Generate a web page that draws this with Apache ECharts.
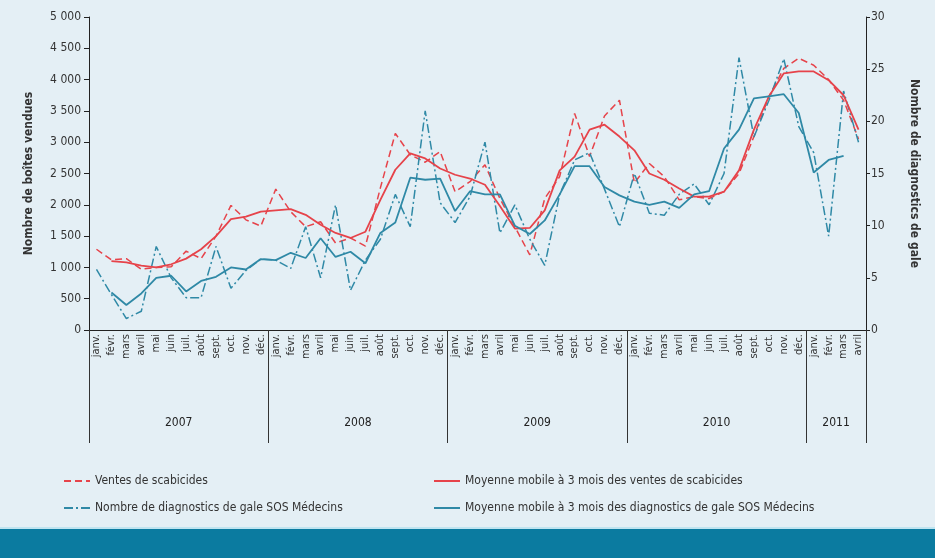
<!DOCTYPE html>
<html>
<head>
<meta charset="utf-8">
<title>Ventes de scabicides et diagnostics de gale</title>
<script src="https://cdn.jsdelivr.net/npm/echarts@6/dist/echarts.min.js"></script>
<style>
	body {
		margin: 0;
		background: #e4eff5;
	}

	#zoom {
		position: absolute;
		left: 0;
		top: 0;
		width: 935px;
		height: 558px;
	}

	#band {
		position: absolute;
		left: 0;
		top: 527px;
		width: 935px;
		height: 31px;
		background: #0b7ba0;
		border-top: 2px solid #bfe4f0;
		box-sizing: border-box;
	}
</style>
</head>
<body>
<div id="zoom"></div>
<div id="band"></div>
<script>
	// mois (janv. 2007 -> avril 2011)
	const mois = ['janv.', 'févr.', 'mars', 'avril', 'mai', 'juin', 'juil.', 'août', 'sept.', 'oct.', 'nov.', 'déc.']
	const annees = ['2007', '2008', '2009', '2010', '2011']
	const moisParAnnee = [12, 12, 12, 12, 4]

	// ventes de scabicides (boites)
	const ventes = [
		1290, 1120, 1140, 970, 1000, 1010, 1260, 1140, 1500, 1990, 1760, 1660,
		2250, 1890, 1650, 1730, 1390, 1470, 1340, 2270, 3140, 2800, 2680, 2850,
		2210, 2370, 2640, 2100, 1650, 1200, 2100, 2450, 3460, 2770, 3420, 3670,
		2350, 2660, 2450, 2080, 2130, 2100, 2210, 2500, 3090, 3730, 4180, 4340,
		4230, 4000, 3670, 3050
	]
	// moyenne mobile 3 mois des ventes
	const ventesMoy = [
		null, 1100, 1080, 1030, 1000, 1050, 1140, 1290, 1500, 1770, 1810, 1890,
		1910, 1930, 1840, 1680, 1550, 1470, 1570, 2080, 2560, 2820, 2740, 2580,
		2480, 2420, 2320, 1980, 1620, 1630, 1910, 2550, 2770, 3200, 3280, 3090,
		2870, 2500, 2400, 2260, 2130, 2130, 2210, 2550, 3200, 3730, 4100, 4130,
		4130, 3990, 3750, 3200
	]
	// nombre de diagnostics de gale SOS Médecins
	const diag = [
		5.8, 3.4, 1.1, 1.8, 8.0, 5.0, 3.1, 3.1, 8.0, 4.0, 5.7, 6.8,
		6.7, 5.9, 9.9, 5.0, 12.0, 3.8, 6.7, 8.7, 13.0, 9.9, 21.0, 12.2,
		10.3, 12.8, 18.0, 9.3, 12.0, 8.7, 6.2, 13.0, 16.3, 17.0, 13.5, 9.9,
		15.0, 11.2, 11.0, 13.0, 14.0, 12.0, 15.0, 26.1, 18.5, 22.0, 26.0, 19.5,
		17.0, 9.0, 22.9, 18.0
	]
	// moyenne mobile 3 mois des diagnostics
	const diagMoy = [
		null, 3.6, 2.4, 3.5, 5.0, 5.2, 3.7, 4.7, 5.1, 6.0, 5.8, 6.8,
		6.7, 7.4, 6.9, 8.8, 7.0, 7.5, 6.4, 9.3, 10.3, 14.6, 14.4, 14.5,
		11.4, 13.3, 13.0, 13.0, 10.0, 9.2, 10.5, 13.0, 15.7, 15.7, 13.7, 12.9,
		12.3, 12.0, 12.3, 11.7, 13.0, 13.3, 17.4, 19.2, 22.2, 22.4, 22.6, 20.8,
		15.1, 16.3, 16.7, null
	]

	// axe des catégories : un libellé par mois + l'année de chaque mois
	const categories = []
	const anneeDuMois = []
	annees.forEach((a, k) => {
		for (let m = 0; m < moisParAnnee[k]; m++) {
			categories.push(mois[m])
			anneeDuMois.push(a)
		}
	})
	// début de chaque année (séparateurs) et milieu (libellé)
	const debutAnnee = []
	const milieuAnnee = []
	let n = 0
	moisParAnnee.forEach(c => {
		debutAnnee.push(n)
		milieuAnnee.push(n + c / 2)
		n += c
	})

	const police = "'Liberation Sans Narrow', 'DejaVu Sans Condensed', sans-serif"
	const rouge = '#e6434a'
	const bleu = '#2f89a6'

	const legende = {
		orient: 'vertical',
		top: 470,
		itemWidth: 26,
		itemHeight: 10,
		itemGap: 15,
		// pas de rond dans l'icone, juste le trait
		itemStyle: {
			opacity: 0
		},
		textStyle: {
			fontSize: 12,
			color: '#333'
		}
	}

	const option = {
		backgroundColor: '#e4eff5',
		textStyle: {
			fontFamily: police
		},
		grid: {
			left: 89,
			right: 69,
			top: 17,
			bottom: 228
		},
		legend: [{
			...legende,
			left: 58,
			data: ['Ventes de scabicides', 'Nombre de diagnostics de gale SOS Médecins']
		}, {
			...legende,
			left: 428,
			data: ['Moyenne mobile à 3 mois des ventes de scabicides',
				'Moyenne mobile à 3 mois des diagnostics de gale SOS Médecins'
			]
		}],
		xAxis: [{
			type: 'category',
			position: 'bottom',
			data: categories,
			axisLine: {
				lineStyle: {
					color: '#222'
				}
			},
			axisTick: {
				show: false
			},
			axisLabel: {
				interval: 0,
				rotate: 90,
				margin: 4,
				fontSize: 11,
				color: '#333'
			}
		}, {
			// années : séparateurs + libellés
			type: 'category',
			position: 'bottom',
			data: anneeDuMois,
			axisLine: {
				show: false
			},
			axisTick: {
				show: true,
				length: 113,
				interval: (idx) => debutAnnee.indexOf(idx) >= 0,
				lineStyle: {
					color: '#333'
				}
			},
			axisLabel: {
				interval: (idx) => milieuAnnee.indexOf(idx) >= 0,
				margin: 87,
				fontSize: 12,
				color: '#222',
				padding: [0, 15, 0, 0]
			}
		}],
		yAxis: [{
			type: 'value',
			min: 0,
			max: 5000,
			interval: 500,
			name: 'Nombre de boîtes vendues',
			nameLocation: 'middle',
			nameGap: 54,
			nameTextStyle: {
				fontSize: 12,
				fontWeight: 'bold',
				color: '#333'
			},
			splitLine: {
				show: false
			},
			axisLine: {
				show: true,
				lineStyle: {
					color: '#222'
				}
			},
			axisTick: {
				show: true,
				length: 5
			},
			axisLabel: {
				fontSize: 12,
				color: '#333',
				margin: 8,
				formatter: (v) => String(v).replace(/\B(?=(\d{3})+$)/g, ' ')
			}
		}, {
			type: 'value',
			min: 0,
			max: 30,
			interval: 5,
			position: 'right',
			name: 'Nombre de diagnostics de gale',
			nameLocation: 'middle',
			nameGap: 42,
			nameRotate: -90,
			nameTextStyle: {
				fontSize: 12,
				fontWeight: 'bold',
				color: '#333'
			},
			splitLine: {
				show: false
			},
			axisLine: {
				show: true,
				lineStyle: {
					color: '#222'
				}
			},
			axisTick: {
				show: true,
				length: 4
			},
			axisLabel: {
				fontSize: 12,
				color: '#333',
				margin: 5
			}
		}],
		series: [{
			name: 'Ventes de scabicides',
			type: 'line',
			data: ventes,
			symbol: 'none',
			itemStyle: {
				color: rouge
			},
			lineStyle: {
				color: rouge,
				width: 1.5,
				type: [7, 4]
			}
		}, {
			name: 'Nombre de diagnostics de gale SOS Médecins',
			type: 'line',
			yAxisIndex: 1,
			data: diag,
			symbol: 'none',
			itemStyle: {
				color: bleu
			},
			lineStyle: {
				color: bleu,
				width: 1.5,
				type: [9, 3, 2, 3]
			}
		}, {
			name: 'Moyenne mobile à 3 mois des ventes de scabicides',
			type: 'line',
			data: ventesMoy,
			symbol: 'none',
			itemStyle: {
				color: rouge
			},
			lineStyle: {
				color: rouge,
				width: 1.8
			}
		}, {
			name: 'Moyenne mobile à 3 mois des diagnostics de gale SOS Médecins',
			type: 'line',
			yAxisIndex: 1,
			data: diagMoy,
			symbol: 'none',
			itemStyle: {
				color: bleu
			},
			lineStyle: {
				color: bleu,
				width: 1.8
			}
		}]
	}

	const myChart = echarts.init(document.getElementById('zoom'))
	myChart.setOption(option)
</script>
</body>
</html>
